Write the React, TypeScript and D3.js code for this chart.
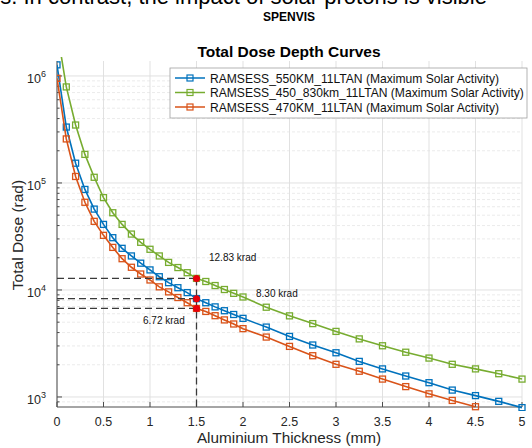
import { useEffect, useRef } from 'react'
import * as d3 from 'd3'

// aluminium thickness (mm)
const thickness = [
  0, 0.1, 0.2, 0.3, 0.4, 0.5, 0.6, 0.7, 0.8, 0.9, 1.0,
  1.1, 1.2, 1.3, 1.4, 1.5, 1.6, 1.7, 1.8, 1.9, 2.0,
  2.25, 2.5, 2.75, 3.0, 3.25, 3.5, 3.75, 4.0, 4.25, 4.5, 4.75, 5.0,
]

// total dose (rad)
const dose550 = [
  1.27e6, 3.33e5, 1.53e5, 8.7e4, 5.7e4, 4.1e4, 3.08e4, 2.45e4, 2.08e4, 1.78e4, 1.54e4,
  1.33e4, 1.17e4, 1.05e4, 9.45e3, 8.3e3, 7.6e3, 6.95e3, 6.4e3, 5.9e3, 5.43e3,
  4.5e3, 3.68e3, 3.06e3, 2.59e3, 2.15e3, 1.83e3, 1.57e3, 1.36e3, 1.16e3, 1.03e3, 910, 795,
]
const dose450830 = [
  2.7e6, 7.9e5, 3.48e5, 1.85e5, 1.13e5, 7.3e4, 5.27e4, 4.1e4, 3.33e4, 2.79e4, 2.4e4,
  2.08e4, 1.81e4, 1.62e4, 1.45e4, 1.283e4, 1.2e4, 1.1e4, 1.01e4, 9.3e3, 8.6e3,
  6.9e3, 5.73e3, 4.85e3, 4.1e3, 3.49e3, 3.01e3, 2.62e3, 2.31e3, 2.02e3, 1.83e3, 1.65e3, 1.47e3,
]
const dose470 = [
  9.5e5, 2.58e5, 1.15e5, 6.6e4, 4.38e4, 3.24e4, 2.5e4, 1.96e4, 1.63e4, 1.41e4, 1.24e4,
  1.07e4, 9.6e3, 8.5e3, 7.6e3, 6.72e3, 6.3e3, 5.75e3, 5.25e3, 4.81e3, 4.35e3,
  3.63e3, 2.97e3, 2.43e3, 2.02e3, 1.74e3, 1.47e3, 1.25e3, 1.07e3, 928, 811,
]

const seriesNames = [
  'RAMSESS_550KM_11LTAN (Maximum Solar Activity)',
  'RAMSESS_450_830km_11LTAN (Maximum Solar Activity)',
  'RAMSESS_470KM_11LTAN (Maximum Solar Activity)',
]
const seriesColors = ['#0072BD', '#77AC30', '#D95319']

// marked doses at 1.5 mm
const markX = 1.5
const markDose = [12830, 8300, 6720]
const markLabels = ['12.83 krad', '8.30 krad', '6.72 krad']

const xTicks = [0, 0.5, 1, 1.5, 2, 2.5, 3, 3.5, 4, 4.5, 5]
const yDecades = [3, 4, 5, 6]

const W = 532, H = 448
const FONT = 'Liberation Sans, Arial, sans-serif'

export default function App() {
  const svgRef = useRef<SVGSVGElement>(null)

  useEffect(() => {
    if (!svgRef.current) return
    const svg = d3.select(svgRef.current)
    svg.selectAll('*').remove()

    const m = { left: 57, right: 522, top: 61, bottom: 407 }
    const x = d3.scaleLinear().domain([0, 5]).range([m.left, m.right])
    const y = d3.scaleLog().domain([806, 1.38e6]).range([m.bottom, m.top])

    svg.append('rect').attr('width', W).attr('height', H).attr('fill', '#fff')

    // cropped running text of the page above the figure
    svg.append('text')
      .attr('x', -12).attr('y', 3.5)
      .attr('font-family', FONT).attr('font-size', 22)
      .text('ns. In contrast, the impact of solar protons is visible')

    svg.append('text')
      .attr('x', 289).attr('y', 21).attr('text-anchor', 'middle')
      .attr('font-family', FONT).attr('font-size', 12).attr('font-weight', 'bold')
      .text('SPENVIS')

    svg.append('text')
      .attr('x', 289).attr('y', 57).attr('text-anchor', 'middle')
      .attr('font-family', FONT).attr('font-size', 15.5).attr('font-weight', 'bold')
      .text('Total Dose Depth Curves')

    // grid
    const grid = svg.append('g')
    const minor: number[] = []
    for (let e = 2; e <= 6; e++) for (let k = 2; k <= 9; k++) minor.push(k * Math.pow(10, e))
    const minorIn = minor.filter(v => v > 806 && v < 1.38e6)
    grid.selectAll('line.minor')
      .data(minorIn)
      .join('line')
      .attr('x1', m.left).attr('x2', m.right)
      .attr('y1', d => y(d)).attr('y2', d => y(d))
      .attr('stroke', '#e6e6e6').attr('stroke-width', 0.8).attr('stroke-dasharray', '3,2')
    grid.selectAll('line.hmaj')
      .data(yDecades)
      .join('line')
      .attr('x1', m.left).attr('x2', m.right)
      .attr('y1', d => y(Math.pow(10, d))).attr('y2', d => y(Math.pow(10, d)))
      .attr('stroke', '#dedede').attr('stroke-width', 0.9)
    grid.selectAll('line.vmaj')
      .data(xTicks)
      .join('line')
      .attr('x1', d => x(d)).attr('x2', d => x(d))
      .attr('y1', m.top).attr('y2', m.bottom)
      .attr('stroke', '#dedede').attr('stroke-width', 0.9)

    // axes
    const ax = svg.append('g').attr('stroke', '#4d4d4d').attr('stroke-width', 1)
    ax.append('line').attr('x1', m.left).attr('x2', m.left).attr('y1', m.top).attr('y2', m.bottom)
    ax.append('line').attr('x1', m.left).attr('x2', m.right).attr('y1', m.bottom).attr('y2', m.bottom)
    ax.selectAll('line.xt').data(xTicks).join('line')
      .attr('x1', d => x(d)).attr('x2', d => x(d))
      .attr('y1', m.bottom).attr('y2', m.bottom - 5)
    ax.selectAll('line.ymaj').data(yDecades).join('line')
      .attr('x1', m.left).attr('x2', m.left + 5)
      .attr('y1', d => y(Math.pow(10, d))).attr('y2', d => y(Math.pow(10, d)))
    ax.selectAll('line.ymin').data(minorIn).join('line')
      .attr('x1', m.left).attr('x2', m.left + 2.5)
      .attr('y1', d => y(d)).attr('y2', d => y(d))

    svg.append('g').selectAll('text').data(xTicks).join('text')
      .attr('x', d => x(d)).attr('y', 426).attr('text-anchor', 'middle')
      .attr('font-family', FONT).attr('font-size', 12.5).attr('fill', '#262626')
      .text(d => String(d))

    const yl = svg.append('g').selectAll('text').data(yDecades).join('text')
      .attr('x', 46).attr('y', d => y(Math.pow(10, d)) + 7).attr('text-anchor', 'end')
      .attr('font-family', FONT).attr('font-size', 12.5).attr('fill', '#262626')
    yl.append('tspan').text('10')
    yl.append('tspan').attr('dy', -6).attr('font-size', 9).text(d => String(d))

    svg.append('text')
      .attr('transform', 'translate(23,235) rotate(-90)')
      .attr('text-anchor', 'middle')
      .attr('font-family', FONT).attr('font-size', 15.5).attr('fill', '#262626')
      .text('Total Dose (rad)')
    svg.append('text')
      .attr('x', 289).attr('y', 443).attr('text-anchor', 'middle')
      .attr('font-family', FONT).attr('font-size', 15.3).attr('fill', '#262626')
      .text('Aluminium Thickness (mm)')

    // curves
    svg.append('clipPath').attr('id', 'plotclip')
      .append('rect').attr('x', m.left).attr('y', m.top - 4)
      .attr('width', m.right - m.left + 4).attr('height', m.bottom - m.top + 8)

    const line = d3.line<[number, number]>().x(d => x(d[0])).y(d => y(d[1]))
    const allSeries = [dose550, dose450830, dose470]
    const plot = svg.append('g').attr('clip-path', 'url(#plotclip)')
    allSeries.forEach((vals, i) => {
      const pts = vals.map((v, j) => [thickness[j], v] as [number, number])
      plot.append('path')
        .attr('d', line(pts))
        .attr('fill', 'none').attr('stroke', seriesColors[i]).attr('stroke-width', 1.6)
      plot.selectAll(`rect.m${i}`)
        .data(pts.filter(p => p[1] <= 1.38e6))
        .join('rect')
        .attr('x', d => x(d[0]) - 3).attr('y', d => y(d[1]) - 3)
        .attr('width', 6).attr('height', 6)
        .attr('fill', 'none').attr('stroke', seriesColors[i]).attr('stroke-width', 1.3)
    })

    // dashed guides at 1.5 mm
    const guide = svg.append('g')
      .attr('stroke', '#3a3a3a').attr('stroke-width', 1.3).attr('stroke-dasharray', '7,4')
    markDose.forEach(v => {
      guide.append('line')
        .attr('x1', m.left).attr('x2', x(markX))
        .attr('y1', y(v)).attr('y2', y(v))
    })
    guide.append('line')
      .attr('x1', x(markX)).attr('x2', x(markX))
      .attr('y1', y(d3.max(markDose)!)).attr('y2', m.bottom)

    svg.append('g').selectAll('circle').data(markDose).join('circle')
      .attr('cx', x(markX)).attr('cy', d => y(d)).attr('r', 3.5)
      .attr('fill', '#e8000b')

    const labelPos = [[209, 261], [256, 297], [143, 324]]
    svg.append('g').selectAll('text').data(markLabels).join('text')
      .attr('x', (_, i) => labelPos[i][0]).attr('y', (_, i) => labelPos[i][1])
      .attr('font-family', FONT).attr('font-size', 10).attr('fill', '#111')
      .text(d => d)

    // legend
    const lg = svg.append('g')
    lg.append('rect')
      .attr('x', 170).attr('y', 68).attr('width', 357).attr('height', 50)
      .attr('fill', '#fff').attr('stroke', '#a0a0a0').attr('stroke-width', 0.8)
    seriesNames.forEach((name, i) => {
      const ry = 78 + i * 14.5
      lg.append('line')
        .attr('x1', 175).attr('x2', 205).attr('y1', ry).attr('y2', ry)
        .attr('stroke', seriesColors[i]).attr('stroke-width', 1.5)
      lg.append('rect')
        .attr('x', 187).attr('y', ry - 3).attr('width', 6).attr('height', 6)
        .attr('fill', 'none').attr('stroke', seriesColors[i]).attr('stroke-width', 1.2)
      lg.append('text')
        .attr('x', 210).attr('y', ry + 4.5)
        .attr('font-family', FONT).attr('font-size', 12.1).attr('fill', '#111')
        .text(name)
    })
  }, [])

  return (
    <svg
      ref={svgRef}
      width={W}
      height={H}
      style={{ position: 'absolute', left: 0, top: 0, display: 'block' }}
    />
  )
}
